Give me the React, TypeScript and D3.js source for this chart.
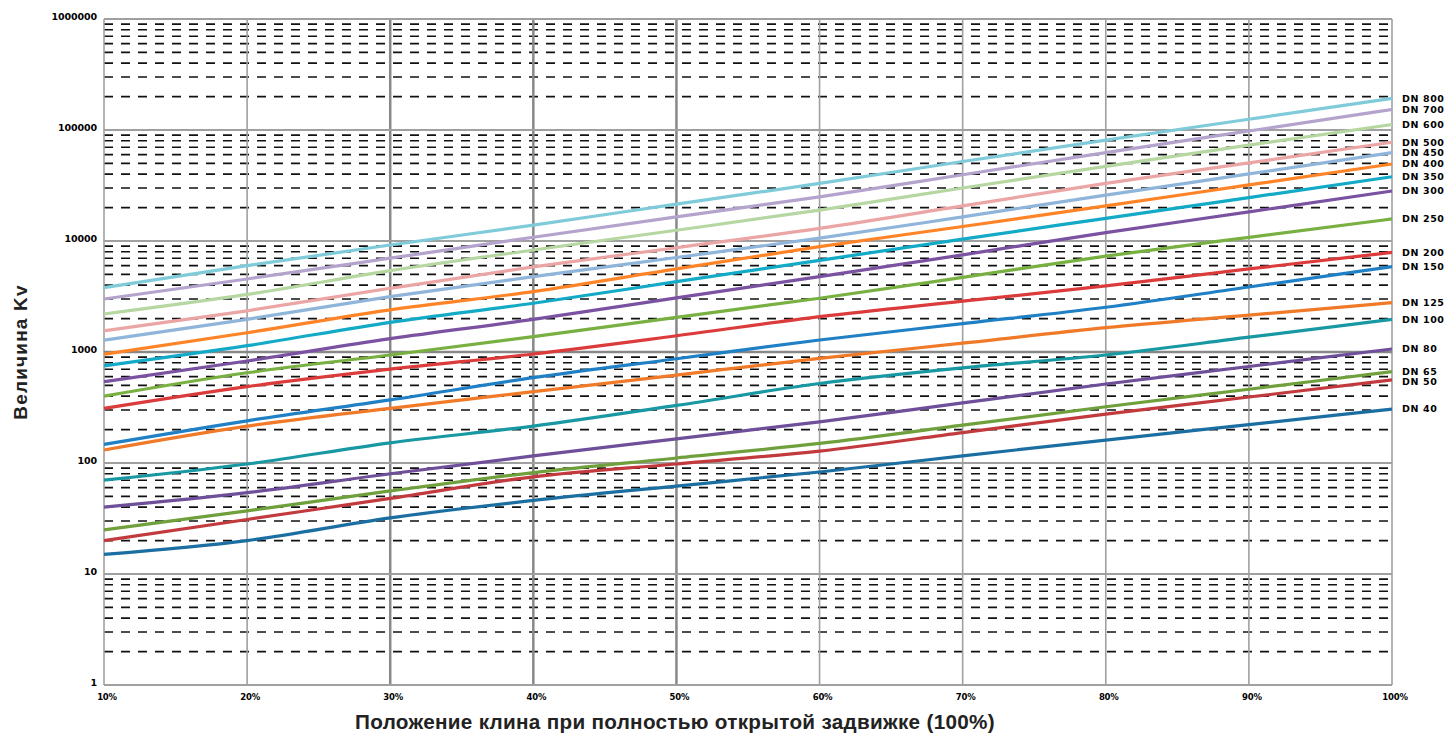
import React from "react";
import * as d3 from "d3";

const positions = [10, 20, 30, 40, 50, 60, 70, 80, 90, 100];
const xTickLabels = ["10%", "20%", "30%", "40%", "50%", "60%", "70%", "80%", "90%", "100%"];
const yTickValues = [1, 10, 100, 1000, 10000, 100000, 1000000];
const yTickLabels = ["1", "10", "100", "1000", "10000", "100000", "1000000"];

const seriesNames = ["DN 800", "DN 700", "DN 600", "DN 500", "DN 450", "DN 400", "DN 350", "DN 300", "DN 250", "DN 200", "DN 150", "DN 125", "DN 100", "DN 80", "DN 65", "DN 50", "DN 40"];

const dn800 = [3800, 6000, 9200, 13900, 21500, 33000, 52000, 81000, 125000, 193000];
const dn700 = [3000, 4550, 7000, 10800, 16500, 25000, 39500, 62500, 98000, 153000];
const dn600 = [2200, 3300, 5400, 8300, 12500, 19000, 30000, 47000, 73000, 112000];
const dn500 = [1550, 2350, 3750, 5850, 8700, 13000, 20700, 33000, 50500, 77500];
const dn450 = [1280, 1970, 3150, 4770, 7100, 10600, 16500, 25900, 40200, 62500];
const dn400 = [955, 1490, 2400, 3500, 5600, 8900, 13500, 20700, 32000, 49400];
const dn350 = [750, 1140, 1850, 2750, 4300, 6700, 10400, 16000, 24600, 37900];
const dn300 = [540, 830, 1320, 1970, 3070, 4770, 7500, 11900, 18300, 28200];
const dn250 = [400, 650, 940, 1375, 2050, 3050, 4700, 7300, 10800, 15800];
const dn200 = [310, 487, 700, 960, 1400, 2080, 2870, 3940, 5600, 7900];
const dn150 = [147, 240, 370, 587, 870, 1283, 1800, 2530, 3850, 5870];
const dn125 = [131, 215, 311, 439, 620, 877, 1200, 1655, 2150, 2780];
const dn100 = [70, 98, 152, 215, 330, 520, 720, 940, 1360, 1970];
const dn80 = [40, 54, 80, 116, 165, 235, 348, 515, 740, 1065];
const dn65 = [25, 37, 56, 82, 111, 150, 219, 321, 462, 665];
const dn50 = [20, 31, 48, 75, 98, 128, 188, 276, 393, 560];
const dn40 = [15, 20, 32, 46, 62, 83, 116, 161, 222, 306];

const seriesValues = [dn800, dn700, dn600, dn500, dn450, dn400, dn350, dn300, dn250, dn200, dn150, dn125, dn100, dn80, dn65, dn50, dn40];
const seriesColors = ["#7fcbd9", "#b4a3cd", "#b6d7a1", "#eba5a5", "#90b5da", "#ff8427", "#12aac6", "#7a52a1", "#79b042", "#dc3b3c", "#1f80c5", "#f07a28", "#1898a3", "#6f4f9a", "#70a03b", "#c23a3d", "#1b6ea2"];

const W = 1450;
const H = 737;
const left = 104;
const right = 1392;
const top = 19;
const bottom = 685;

export default function App() {
  const x = d3.scaleLinear().domain([10, 100]).range([left, right]);
  const y = d3.scaleLog().domain([1, 1000000]).range([bottom, top]);

  const minor: number[] = [];
  for (let d = 1; d < 1000000; d *= 10) {
    for (let k = 2; k <= 9; k++) minor.push(d * k);
  }

  const line = d3
    .line<number>()
    .x((_, i) => x(positions[i]))
    .y((v) => y(v))
    .curve(d3.curveMonotoneX);

  // label positions: end of each line, nudged apart where they would collide
  const minGap = 10.5;
  const labelY: number[] = [];
  seriesValues.forEach((vals, i) => {
    let ly = y(vals[vals.length - 1]);
    if (i > 0 && ly - labelY[i - 1] < minGap) ly = labelY[i - 1] + minGap;
    labelY.push(ly);
  });

  const font = "'Liberation Sans', Arial, sans-serif";
  const tickFont = "'DejaVu Sans', sans-serif";

  return (
    <svg width={W} height={H} style={{ position: "absolute", left: 0, top: 0, background: "#fff" }}>
      {minor.map((v) => (
        <line key={"m" + v} x1={left} x2={right} y1={y(v)} y2={y(v)} stroke="#111" strokeWidth={1.6} strokeDasharray="9,8" />
      ))}
      {positions.map((p) => (
        <line
          key={"v" + p}
          x1={x(p)}
          x2={x(p)}
          y1={top}
          y2={bottom}
          stroke={p >= 30 && p <= 50 ? "#888" : "#a0a0a0"}
          strokeWidth={p >= 30 && p <= 50 ? 2.5 : 1.6}
        />
      ))}
      {yTickValues.map((v) => (
        <line key={"h" + v} x1={left} x2={right} y1={y(v)} y2={y(v)} stroke={v === 1000 ? "#888" : "#a0a0a0"} strokeWidth={v === 1000 ? 2.5 : 2} />
      ))}
      {seriesValues.map((vals, i) => (
        <path key={"s" + i} d={line(vals) || ""} fill="none" stroke={seriesColors[i]} strokeWidth={3.2} />
      ))}
      {seriesValues.map((vals, i) => (
        <text
          key={"l" + i}
          x={right + 10}
          y={labelY[i]}
          dy="0.35em"
          fontFamily={tickFont}
          fontWeight="bold"
          fontSize={9.5}
          letterSpacing={0.6}
          fill="#000"
        >
          {seriesNames[i]}
        </text>
      ))}
      {yTickValues.map((v, i) => (
        <text key={"yt" + v} x={left - 7} y={y(v) - 2} dy="0.35em" textAnchor="end" fontFamily={tickFont} fontWeight="bold" fontSize={9.5} letterSpacing={-0.1} fill="#000">
          {yTickLabels[i]}
        </text>
      ))}
      {positions.map((p, i) => (
        <text key={"xt" + p} x={x(p) + 3} y={bottom + 15} textAnchor="middle" fontFamily={tickFont} fontWeight="bold" fontSize={8.5} letterSpacing={-0.2} fill="#000">
          {xTickLabels[i]}
        </text>
      ))}
      <text
        transform={`translate(27, ${(top + bottom) / 2}) rotate(-90)`}
        textAnchor="middle"
        fontFamily={font}
        fontWeight="bold"
        fontSize={19}
        letterSpacing={1.2}
        fill="#222"
      >
        Величина Kv
      </text>
      <text x={675} y={729} textAnchor="middle" fontFamily={font} fontWeight="bold" fontSize={20.7} letterSpacing={0.3} fill="#222">
        Положение клина при полностью открытой задвижке (100%)
      </text>
    </svg>
  );
}
